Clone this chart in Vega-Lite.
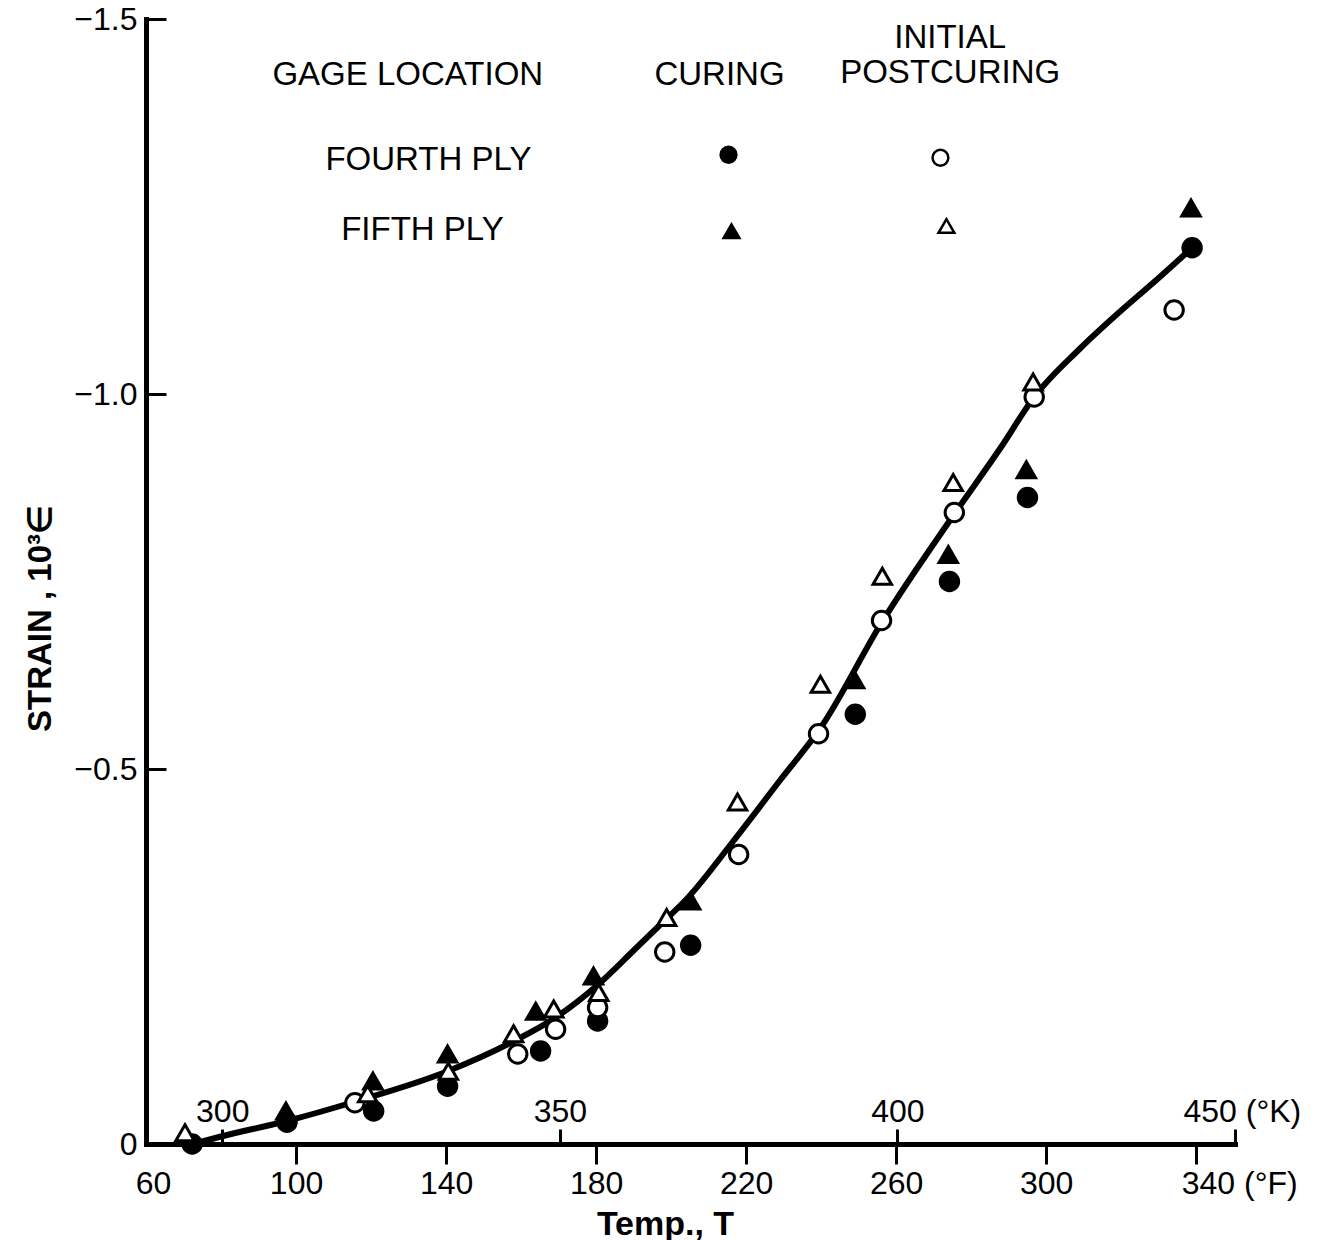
{
  "$schema": "https://vega.github.io/schema/vega-lite/v6.json",
  "width": 1089,
  "height": 1125,
  "autosize": {"type": "none"},
  "padding": {"left": 146, "top": 19, "right": 108, "bottom": 96},
  "background": "white",
  "config": {
    "view": {"stroke": null},
    "font": "Liberation Sans",
    "axis": {
      "grid": false,
      "domainColor": "black",
      "domainWidth": 5,
      "domainCap": "square",
      "tickColor": "black",
      "tickWidth": 3,
      "labelColor": "black",
      "titleColor": "black",
      "labelFont": "Liberation Sans",
      "labelFontSize": 32,
      "titleFont": "Liberation Sans",
      "titleFontSize": 34,
      "titleFontWeight": "bold",
      "labelFlush": false,
      "labelOverlap": false
    }
  },
  "datasets": {
    "obs": [
      {"T": 72.3, "S": 0.0, "gage": "FOURTH PLY", "stage": "CURING"},
      {"T": 97.6, "S": -0.029, "gage": "FOURTH PLY", "stage": "CURING"},
      {"T": 120.7, "S": -0.044, "gage": "FOURTH PLY", "stage": "CURING"},
      {"T": 140.4, "S": -0.077, "gage": "FOURTH PLY", "stage": "CURING"},
      {"T": 165.2, "S": -0.124, "gage": "FOURTH PLY", "stage": "CURING"},
      {"T": 180.4, "S": -0.164, "gage": "FOURTH PLY", "stage": "CURING"},
      {"T": 205.2, "S": -0.265, "gage": "FOURTH PLY", "stage": "CURING"},
      {"T": 249.1, "S": -0.573, "gage": "FOURTH PLY", "stage": "CURING"},
      {"T": 274.2, "S": -0.750, "gage": "FOURTH PLY", "stage": "CURING"},
      {"T": 295.0, "S": -0.862, "gage": "FOURTH PLY", "stage": "CURING"},
      {"T": 338.9, "S": -1.195, "gage": "FOURTH PLY", "stage": "CURING"},
      {"T": 97.3, "S": -0.044, "gage": "FIFTH PLY", "stage": "CURING"},
      {"T": 120.5, "S": -0.084, "gage": "FIFTH PLY", "stage": "CURING"},
      {"T": 140.4, "S": -0.120, "gage": "FIFTH PLY", "stage": "CURING"},
      {"T": 163.9, "S": -0.177, "gage": "FIFTH PLY", "stage": "CURING"},
      {"T": 179.3, "S": -0.224, "gage": "FIFTH PLY", "stage": "CURING"},
      {"T": 205.2, "S": -0.324, "gage": "FIFTH PLY", "stage": "CURING"},
      {"T": 248.9, "S": -0.619, "gage": "FIFTH PLY", "stage": "CURING"},
      {"T": 273.9, "S": -0.786, "gage": "FIFTH PLY", "stage": "CURING"},
      {"T": 294.7, "S": -0.899, "gage": "FIFTH PLY", "stage": "CURING"},
      {"T": 338.6, "S": -1.248, "gage": "FIFTH PLY", "stage": "CURING"},
      {"T": 115.7, "S": -0.055, "gage": "FOURTH PLY", "stage": "INITIAL POSTCURING"},
      {"T": 159.1, "S": -0.120, "gage": "FOURTH PLY", "stage": "INITIAL POSTCURING"},
      {"T": 169.2, "S": -0.153, "gage": "FOURTH PLY", "stage": "INITIAL POSTCURING"},
      {"T": 180.4, "S": -0.182, "gage": "FOURTH PLY", "stage": "INITIAL POSTCURING"},
      {"T": 198.3, "S": -0.256, "gage": "FOURTH PLY", "stage": "INITIAL POSTCURING"},
      {"T": 218.0, "S": -0.386, "gage": "FOURTH PLY", "stage": "INITIAL POSTCURING"},
      {"T": 239.3, "S": -0.547, "gage": "FOURTH PLY", "stage": "INITIAL POSTCURING"},
      {"T": 256.1, "S": -0.698, "gage": "FOURTH PLY", "stage": "INITIAL POSTCURING"},
      {"T": 275.5, "S": -0.842, "gage": "FOURTH PLY", "stage": "INITIAL POSTCURING"},
      {"T": 296.8, "S": -0.996, "gage": "FOURTH PLY", "stage": "INITIAL POSTCURING"},
      {"T": 334.1, "S": -1.112, "gage": "FOURTH PLY", "stage": "INITIAL POSTCURING"},
      {"T": 70.4, "S": -0.015, "gage": "FIFTH PLY", "stage": "INITIAL POSTCURING"},
      {"T": 119.1, "S": -0.067, "gage": "FIFTH PLY", "stage": "INITIAL POSTCURING"},
      {"T": 140.6, "S": -0.097, "gage": "FIFTH PLY", "stage": "INITIAL POSTCURING"},
      {"T": 158.0, "S": -0.147, "gage": "FIFTH PLY", "stage": "INITIAL POSTCURING"},
      {"T": 168.7, "S": -0.180, "gage": "FIFTH PLY", "stage": "INITIAL POSTCURING"},
      {"T": 180.7, "S": -0.202, "gage": "FIFTH PLY", "stage": "INITIAL POSTCURING"},
      {"T": 198.8, "S": -0.302, "gage": "FIFTH PLY", "stage": "INITIAL POSTCURING"},
      {"T": 217.7, "S": -0.456, "gage": "FIFTH PLY", "stage": "INITIAL POSTCURING"},
      {"T": 239.8, "S": -0.613, "gage": "FIFTH PLY", "stage": "INITIAL POSTCURING"},
      {"T": 256.3, "S": -0.757, "gage": "FIFTH PLY", "stage": "INITIAL POSTCURING"},
      {"T": 275.2, "S": -0.882, "gage": "FIFTH PLY", "stage": "INITIAL POSTCURING"},
      {"T": 296.5, "S": -1.016, "gage": "FIFTH PLY", "stage": "INITIAL POSTCURING"}
    ],
    "curve": [
      {"T": 72.5, "S": 0.0},
      {"T": 80.0, "S": -0.010},
      {"T": 97.8, "S": -0.031},
      {"T": 115.4, "S": -0.056},
      {"T": 140.4, "S": -0.097},
      {"T": 158.0, "S": -0.137},
      {"T": 168.7, "S": -0.167},
      {"T": 180.4, "S": -0.212},
      {"T": 190.0, "S": -0.258},
      {"T": 196.4, "S": -0.289},
      {"T": 204.4, "S": -0.328},
      {"T": 216.6, "S": -0.404},
      {"T": 229.2, "S": -0.486},
      {"T": 240.0, "S": -0.556},
      {"T": 256.1, "S": -0.695},
      {"T": 275.5, "S": -0.840},
      {"T": 287.8, "S": -0.928},
      {"T": 296.8, "S": -0.996},
      {"T": 309.1, "S": -1.061},
      {"T": 319.7, "S": -1.110},
      {"T": 329.6, "S": -1.153},
      {"T": 338.9, "S": -1.195}
    ],
    "keySymbols": [
      {"T": 215.3, "S": -1.319, "gage": "FOURTH PLY", "stage": "CURING"},
      {"T": 271.8, "S": -1.315, "gage": "FOURTH PLY", "stage": "INITIAL POSTCURING"},
      {"T": 216.1, "S": -1.217, "gage": "FIFTH PLY", "stage": "CURING"},
      {"T": 273.4, "S": -1.224, "gage": "FIFTH PLY", "stage": "INITIAL POSTCURING"}
    ],
    "keyText": [
      {"T": 129.8, "S": -1.425, "label": "GAGE LOCATION"},
      {"T": 212.9, "S": -1.425, "label": "CURING"},
      {"T": 274.4, "S": -1.475, "label": "INITIAL\nPOSTCURING"},
      {"T": 135.3, "S": -1.312, "label": "FOURTH PLY"},
      {"T": 133.7, "S": -1.219, "label": "FIFTH PLY"}
    ]
  },
  "layer": [
    {
      "data": {"name": "curve"},
      "mark": {"type": "line", "color": "black", "strokeWidth": 6, "interpolate": "monotone"},
      "encoding": {
        "x": {
          "field": "T", "type": "quantitative",
          "scale": {"domain": [60, 350.33], "nice": false, "zero": false},
          "axis": {
            "orient": "bottom",
            "title": null,
            "values": [80.33, 170.33, 260.33, 350.33],
            "domain": false,
            "tickSize": -15,
            "labelPadding": -1,
            "labelBaseline": "bottom",
            "labelExpr": "datum.value > 350 ? '450 (°K)' : format((datum.value - 32) * 5 / 9 + 273.15, '.0f')",
            "labelAlign": {"condition": {"test": "datum.value > 350", "value": "left"}, "value": "center"},
            "labelOffset": {"condition": {"test": "datum.value > 350", "value": -52}, "value": 0}
          }
        },
        "y": {
          "field": "S", "type": "quantitative",
          "scale": {"domain": [-1.5, 0], "reverse": true, "nice": false, "zero": false},
          "axis": null
        }
      }
    },
    {
      "data": {"name": "obs"},
      "mark": {"type": "point", "filled": true, "size": 340, "stroke": "black", "strokeWidth": 3, "opacity": 1},
      "encoding": {
        "x": {
          "field": "T", "type": "quantitative",
          "scale": {"domain": [60, 350.33], "nice": false, "zero": false},
          "axis": {
            "orient": "bottom",
            "title": "Temp., T",
            "titleX": 519,
            "titleY": 90,
            "titleAlign": "center",
            "titleBaseline": "alphabetic",
            "values": [60, 100, 140, 180, 220, 260, 300, 340],
            "tickSize": 20,
            "labelPadding": 4,
            "labelExpr": "datum.value == 340 ? '340 (°F)' : datum.label",
            "labelAlign": {"condition": {"test": "datum.value == 340", "value": "left"}, "value": "center"},
            "labelOffset": {"condition": [{"test": "datum.value == 340", "value": -15}, {"test": "datum.value == 60", "value": 7}], "value": 0},
            "tickOpacity": {"condition": {"test": "datum.value == 60", "value": 0}, "value": 1}
          }
        },
        "y": {
          "field": "S", "type": "quantitative",
          "scale": {"domain": [-1.5, 0], "reverse": true, "nice": false, "zero": false},
          "axis": {
            "orient": "left",
            "title": "STRAIN , 10³∈",
            "titleAngle": 270,
            "titleX": -106,
            "titleY": 599,
            "titleAlign": "center",
            "titleBaseline": "middle",
            "titleFontSize": 33,
            "values": [0, -0.5, -1, -1.5],
            "tickSize": -20,
            "labelPadding": 29,
            "labelExpr": "datum.value == 0 ? '0' : format(datum.value, '.1f')",
            "tickOpacity": {"condition": {"test": "datum.value == 0", "value": 0}, "value": 1}
          }
        },
        "shape": {
          "field": "gage", "type": "nominal",
          "scale": {"domain": ["FOURTH PLY", "FIFTH PLY"], "range": ["circle", "triangle-up"]},
          "legend": null
        },
        "fill": {
          "field": "stage", "type": "nominal",
          "scale": {"domain": ["CURING", "INITIAL POSTCURING"], "range": ["black", "white"]},
          "legend": null
        }
      }
    },
    {
      "data": {"name": "keySymbols"},
      "mark": {"type": "point", "filled": true, "size": 250, "stroke": "black", "strokeWidth": 2.5, "opacity": 1},
      "encoding": {
        "x": {"field": "T", "type": "quantitative", "scale": {"domain": [60, 350.33], "nice": false, "zero": false}, "axis": null},
        "y": {"field": "S", "type": "quantitative", "scale": {"domain": [-1.5, 0], "reverse": true, "nice": false, "zero": false}, "axis": null},
        "shape": {"field": "gage", "type": "nominal", "scale": {"domain": ["FOURTH PLY", "FIFTH PLY"], "range": ["circle", "triangle-up"]}, "legend": null},
        "fill": {"field": "stage", "type": "nominal", "scale": {"domain": ["CURING", "INITIAL POSTCURING"], "range": ["black", "white"]}, "legend": null}
      }
    },
    {
      "data": {"name": "keyText"},
      "mark": {"type": "text", "font": "Liberation Sans", "fontSize": 33, "color": "black", "align": "center", "baseline": "middle", "lineBreak": "\n", "lineHeight": 35},
      "encoding": {
        "x": {"field": "T", "type": "quantitative", "scale": {"domain": [60, 350.33], "nice": false, "zero": false}, "axis": null},
        "y": {"field": "S", "type": "quantitative", "scale": {"domain": [-1.5, 0], "reverse": true, "nice": false, "zero": false}, "axis": null},
        "text": {"field": "label", "type": "nominal"}
      }
    }
  ],
  "resolve": {"axis": {"x": "independent", "y": "independent"}}
}
